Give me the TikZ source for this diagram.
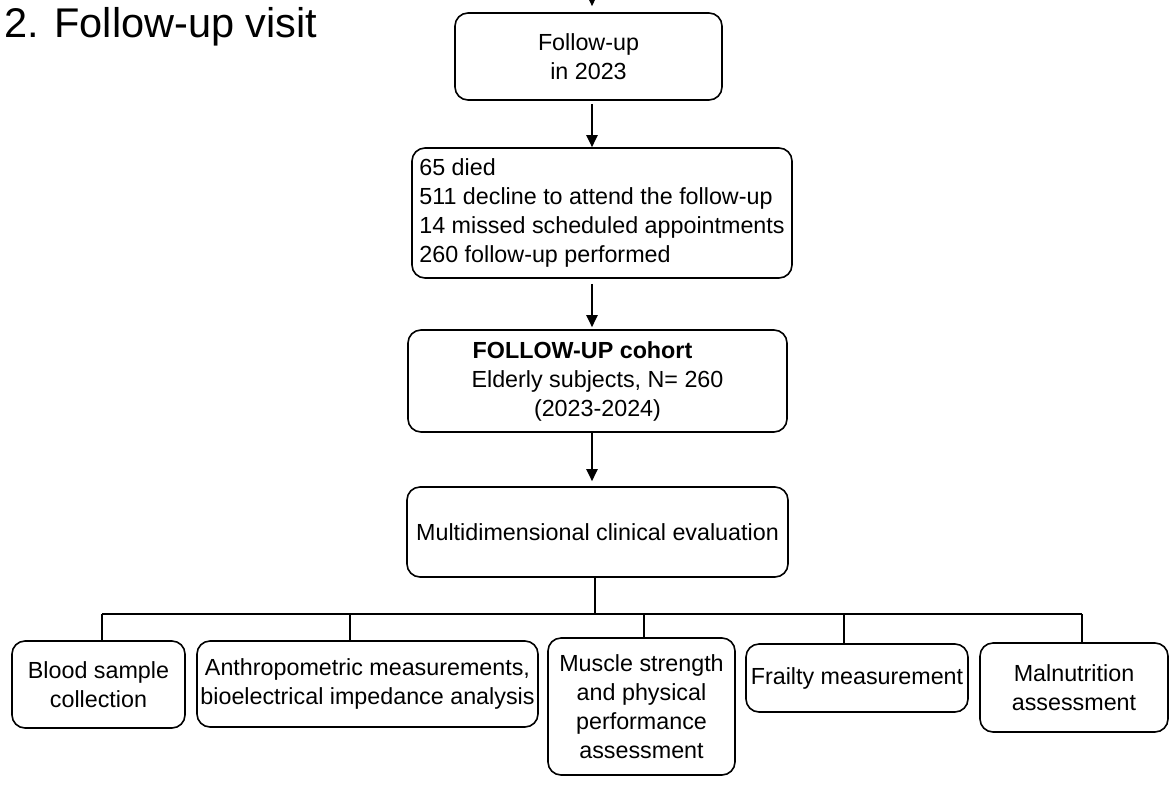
\documentclass[tikz,border=0pt]{standalone}
\usepackage{fontspec}
\setmainfont{Liberation Sans}
\usetikzlibrary{arrows.meta}

\begin{document}
\begin{tikzpicture}[x=1pt,y=-1pt,>={Triangle[length=12pt,width=11pt]},
          font=\fontsize{23.3}{29}\selectfont,
          bx/.style={draw,line width=1.6pt,rounded corners=13pt,align=center,inner sep=2pt},
          arr/.style={->,line width=2.2pt},
          ln/.style={line width=1.5pt}]
        \useasboundingbox (0,0) rectangle (1172,785);
        \node[anchor=base west,font=\fontsize{41.5}{48}\selectfont] (ttl) at (1,37) {2. Follow-up visit};
        \node[bx,minimum width=267pt,minimum height=87pt] (fu) at (588.5,56.5) {Follow-up\\in 2023};
        \node[bx,align=left,minimum width=380pt,minimum height=130pt] (out) at (602,213)
          {65 died\\511 decline to attend the follow-up\\14 missed scheduled appointments\\260 follow-up performed};
        \node[bx,minimum width=379pt,minimum height=102pt] (coh) at (597.5,381)
          {\textbf{FOLLOW-UP cohort}\hspace*{30pt}\\Elderly subjects, N= 260\\(2023-2024)};
        \node[bx,minimum width=381pt,minimum height=90pt] (eval) at (597.5,532) {Multidimensional clinical evaluation};
        % bottom row
        \node[bx,minimum width=173pt,minimum height=87pt] (blood) at (98.5,684.5) {Blood sample\\collection};
        \node[bx,minimum width=341pt,minimum height=86pt] (anth) at (367.5,684) {Anthropometric measurements,\\bioelectrical impedance analysis};
        \node[bx,minimum width=187pt,minimum height=137pt] (musc) at (641.5,706.5) {Muscle strength\\and physical\\performance\\assessment};
        \node[bx,minimum width=222pt,minimum height=68pt] (frail) at (857,678) {Frailty measurement};
        \node[bx,minimum width=188pt,minimum height=89pt] (maln) at (1074,687.5) {Malnutrition\\assessment};
        % arrows
        \coordinate (top) at (592,-8);
        \coordinate (ax) at (592,0);
        \draw[arr,shorten >=6pt] (top) -- (fu.north -| top);
        \draw[arr,shorten <=3pt] (fu.south -| ax) -- (out.north -| ax);
        \draw[arr,shorten <=5pt,shorten >=2pt] (out.south -| ax) -- (coh.north -| ax);
        \draw[arr,shorten >=5pt] (coh.south -| ax) -- (eval.north -| ax);
        % branch lines
        \coordinate (bm) at (595,614);
        \coordinate (b1) at (102,614);
        \coordinate (b2) at (350,614);
        \coordinate (b3) at (644,614);
        \coordinate (b4) at (844,614);
        \coordinate (b5) at (1082,614);
        \draw[line width=2.6pt] (eval.south -| bm) -- (bm);
        \draw[ln] (b1) -- (b5);
        \foreach \c/\n in {b1/blood,b2/anth,b3/musc,b4/frail,b5/maln}
          \draw[ln] (\c) -- (\c |- \n.north);
      \end{tikzpicture}
\end{document}
